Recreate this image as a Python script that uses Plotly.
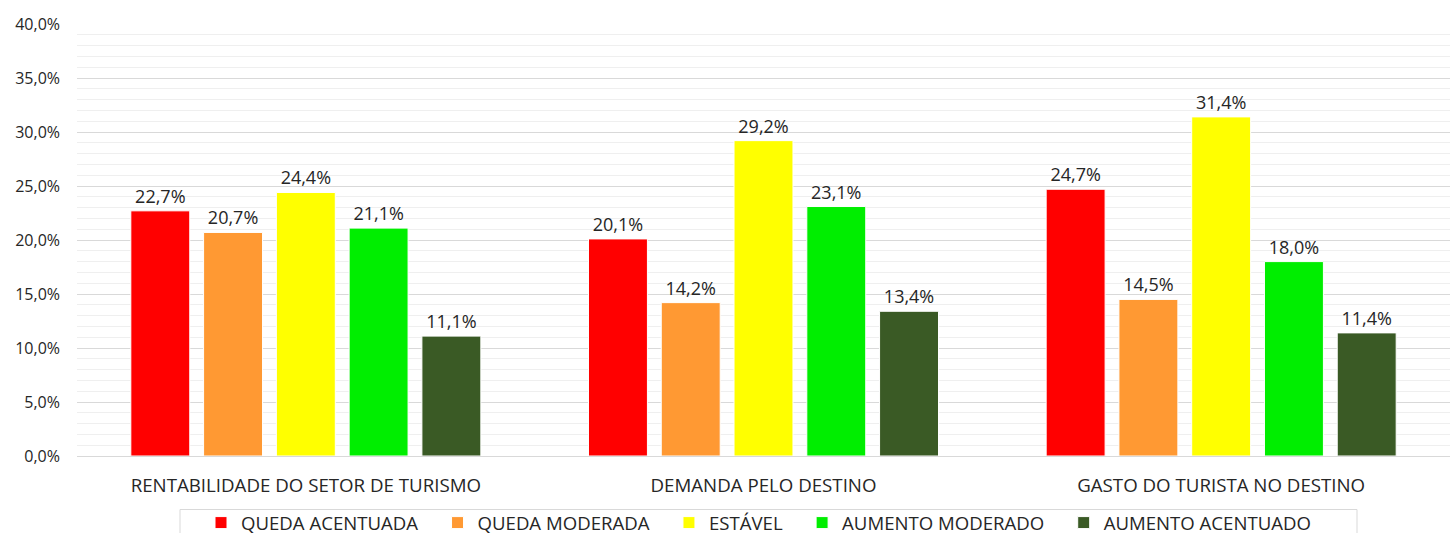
import plotly.graph_objects as go

categories = ["RENTABILIDADE DO SETOR DE TURISMO", "DEMANDA PELO DESTINO", "GASTO DO TURISTA NO DESTINO"]
series_names = ["QUEDA ACENTUADA", "QUEDA MODERADA", "ESTÁVEL", "AUMENTO MODERADO", "AUMENTO ACENTUADO"]
queda_acentuada = [0.227, 0.201, 0.247]
queda_moderada = [0.207, 0.142, 0.145]
estavel = [0.244, 0.292, 0.314]
aumento_moderado = [0.211, 0.231, 0.180]
aumento_acentuado = [0.111, 0.134, 0.114]
colors = ["#ff0000", "#ff9933", "#ffff00", "#00ee00", "#3a5a25"]

values = [queda_acentuada, queda_moderada, estavel, aumento_moderado, aumento_acentuado]

font_family = "Open Sans, Noto Sans, DejaVu Sans, sans-serif"
NBSP = "\u00a0"

W, H = 1451, 550
ML, MR, MT = 77, 1, 24
PLOT_BOTTOM = 456
MB = H - PLOT_BOTTOM
plot_h = PLOT_BOTTOM - MT
plot_w = W - ML - MR


def px_to_paper_x(px):
    return (px - ML) / plot_w


def px_to_paper_y(py):
    return (PLOT_BOTTOM - py) / plot_h


fig = go.Figure()
for name, vals, col in zip(series_names, values, colors):
    fig.add_trace(go.Bar(
        x=categories, y=vals, name=name + NBSP * 3,
        marker=dict(color=col, line=dict(color="#ffffff", width=1)),
        texttemplate="%{y:.1%}", textposition="outside",
        textfont=dict(size=18, color="#262626", family=font_family),
        cliponaxis=False,
    ))

# legend frame (top, left, right edges; the bottom is cut by the page edge)
lx0, lx1 = px_to_paper_x(180), px_to_paper_x(1357)
ly0, ly1 = px_to_paper_y(509.5), px_to_paper_y(560)
for xs, ys in [((lx0, lx1), (ly0, ly0)), ((lx0, lx0), (ly0, ly1)), ((lx1, lx1), (ly0, ly1))]:
    fig.add_shape(type="line", xref="paper", yref="paper",
                  x0=xs[0], x1=xs[1], y0=ys[0], y1=ys[1],
                  line=dict(color="#d9d9d9", width=1))

fig.update_layout(
    width=W, height=H,
    margin=dict(l=ML, r=MR, t=MT, b=MB),
    paper_bgcolor="white", plot_bgcolor="white",
    separators=",.",
    barmode="group", bargap=0.205, bargroupgap=0.19,
    font=dict(family=font_family, color="#262626"),
    xaxis=dict(
        showline=False, ticks="", tickfont=dict(size=18.7, color="#262626"),
        automargin=False, ticklabelstandoff=16,
    ),
    yaxis=dict(
        range=[0, 0.4], dtick=0.05, tickformat=".1%",
        tickfont=dict(size=16, color="#262626"),
        showgrid=True, gridcolor="#d9d9d9", gridwidth=1,
        zeroline=True, zerolinecolor="#d9d9d9", zerolinewidth=1,
        minor=dict(dtick=0.01, showgrid=True, gridcolor="#efefef", gridwidth=1),
        ticks="", ticklabelstandoff=16, automargin=False,
    ),
    legend=dict(
        orientation="h", x=px_to_paper_x(201), xanchor="left",
        y=px_to_paper_y(504), yanchor="top",
        borderwidth=0, bgcolor="rgba(0,0,0,0)",
        font=dict(size=18.6, color="#262626"),
        traceorder="normal", itemwidth=30,
    ),
)

fig.write_html(
    "out.html",
    config={"displayModeBar": False},
    post_script="document.body.style.margin='0';document.body.style.overflow='hidden';",
)
